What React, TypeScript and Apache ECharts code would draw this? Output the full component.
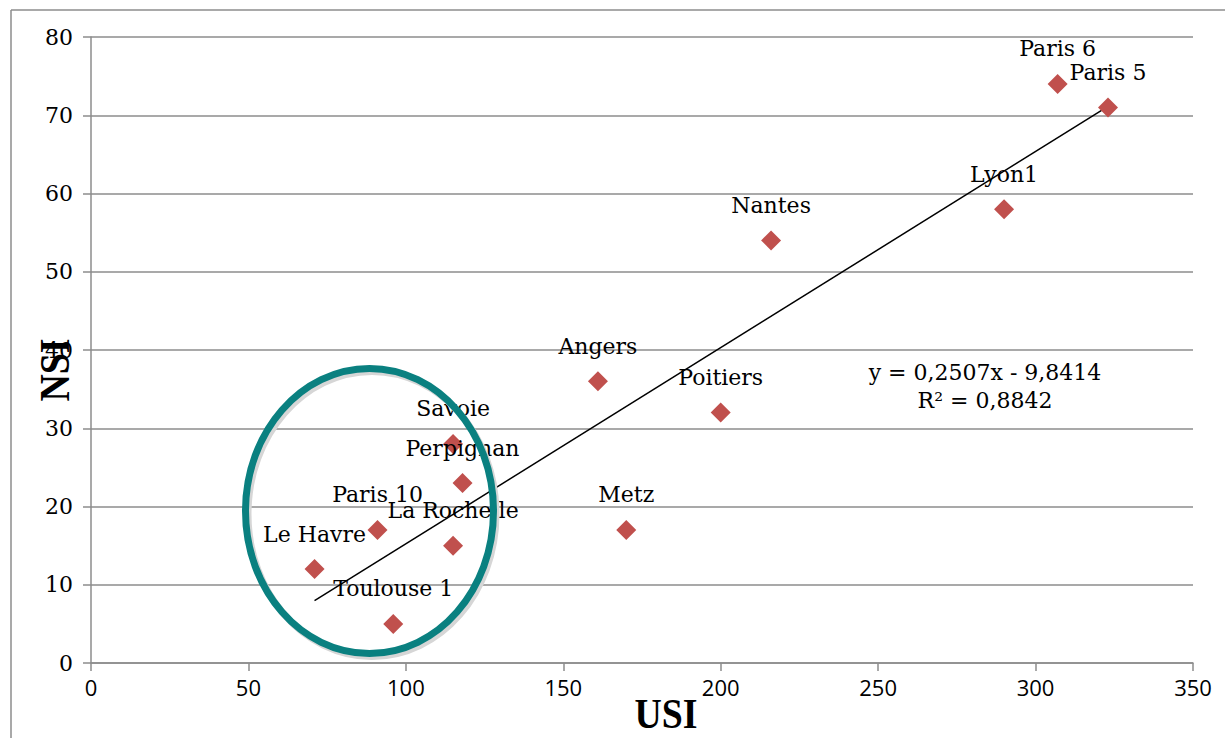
import React, { useEffect, useRef } from "react";
import * as echarts from "echarts";

const names = ["Le Havre", "Paris 10", "Toulouse 1", "La Rochelle", "Savoie", "Perpignan", "Angers", "Metz", "Poitiers", "Nantes", "Lyon1", "Paris 6", "Paris 5"];
const usi = [71, 91, 96, 115, 115, 118, 161, 170, 200, 216, 290, 307, 323];
const nsi = [12, 17, 5, 15, 28, 23, 36, 17, 32, 54, 58, 74, 71];
const slope = 0.2507;
const intercept = -9.8414;
const trendX = [71, 323];
const xTicks = [0, 50, 100, 150, 200, 250, 300, 350];
const yTicks = [0, 10, 20, 30, 40, 50, 60, 70, 80];
const equationText = "y = 0,2507x - 9,8414";
const r2Text = "R² = 0,8842";

export default function App() {
  const ref = useRef<HTMLDivElement>(null);
  useEffect(() => {
    const chart = echarts.init(ref.current!, null, { renderer: "svg" });
    const serif = "DejaVu Serif";
    chart.setOption({
      animation: false,
      backgroundColor: "#ffffff",
      grid: { left: 91, right: 32, top: 37, bottom: 75, containLabel: false },
      xAxis: {
        type: "value",
        min: xTicks[0],
        max: xTicks[xTicks.length - 1],
        interval: 50,
        axisLine: { show: true, onZero: false, lineStyle: { color: "#8c8c8c", width: 1.5 } },
        axisTick: { show: true, length: 8, lineStyle: { color: "#8c8c8c", width: 1.5 } },
        axisLabel: { color: "#000", fontFamily: "Open Sans", fontSize: 22, margin: 13 },
        splitLine: { show: false },
      },
      yAxis: {
        type: "value",
        min: yTicks[0],
        max: yTicks[yTicks.length - 1],
        interval: 10,
        axisLine: { show: true, onZero: false, lineStyle: { color: "#8c8c8c", width: 1.5 } },
        axisTick: { show: true, length: 8, lineStyle: { color: "#8c8c8c", width: 1.5 } },
        axisLabel: { color: "#000", fontFamily: serif, fontSize: 22, margin: 18 },
        splitLine: { show: true, lineStyle: { color: "#8c8c8c", width: 1.5 } },
      },
      series: [
        {
          type: "line",
          data: trendX.map((x) => [x, slope * x + intercept]),
          symbol: "none",
          lineStyle: { color: "#000", width: 1.5 },
          z: 3,
        },
        {
          type: "scatter",
          data: usi.map((x, i) => [x, nsi[i], names[i]]),
          symbol: "diamond",
          symbolSize: 20,
          itemStyle: { color: "#c0504d", opacity: 1 },
          label: {
            show: true,
            position: "inside",
            offset: [0, -35],
            formatter: (p: any) => p.data[2],
            color: "#000",
            textBorderWidth: 0,
            fontFamily: serif,
            fontSize: 22,
          },
          z: 4,
        },
      ],
      graphic: [
        { type: "line", shape: { x1: 11, y1: 10, x2: 1225, y2: 10 }, style: { stroke: "#8c8c8c", lineWidth: 1.5 } },
        { type: "line", shape: { x1: 11, y1: 10, x2: 11, y2: 738 }, style: { stroke: "#8c8c8c", lineWidth: 1.5 } },
        {
          type: "ellipse",
          shape: { cx: 372, cy: 514, rx: 124, ry: 142.5 },
          style: { fill: "none", stroke: "#d6d6d6", lineWidth: 7 },
          z: 5,
        },
        {
          type: "ellipse",
          shape: { cx: 369.5, cy: 511, rx: 124, ry: 142.5 },
          style: { fill: "none", stroke: "#0a8080", lineWidth: 7 },
          z: 6,
        },
        {
          type: "text",
          x: 985,
          y: 372,
          style: { text: equationText, fill: "#000", font: `22px '${serif}'`, align: "center", verticalAlign: "middle" },
          z: 6,
        },
        {
          type: "text",
          x: 985,
          y: 400,
          style: { text: r2Text, fill: "#000", font: `22px '${serif}'`, align: "center", verticalAlign: "middle" },
          z: 6,
        },
        {
          type: "text",
          x: 666,
          y: 714,
          scaleX: 0.9,
          style: { text: "USI", fill: "#000", font: "bold 42px 'Liberation Serif'", align: "center", verticalAlign: "middle" },
          z: 6,
        },
        {
          type: "text",
          x: 55,
          y: 370,
          rotation: Math.PI / 2,
          scaleX: 0.9,
          style: { text: "NSI", fill: "#000", font: "bold 42px 'Liberation Serif'", align: "center", verticalAlign: "middle" },
          z: 6,
        },
      ],
    });
    return () => chart.dispose();
  }, []);
  return <div ref={ref} style={{ position: "absolute", left: 0, top: 0, width: 1225, height: 738 }} />;
}
